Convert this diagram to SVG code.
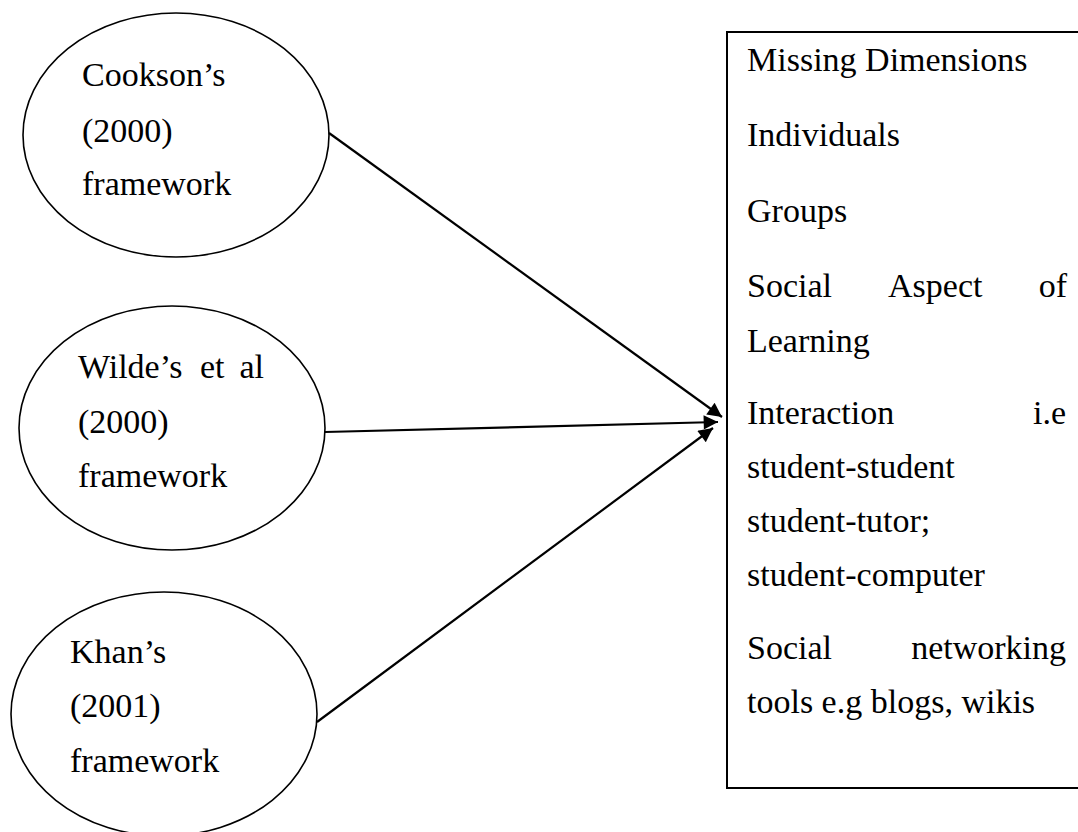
<svg xmlns="http://www.w3.org/2000/svg" width="1078" height="832" viewBox="0 0 1078 832">
  <style>
    .node { fill: #ffffff; stroke: #000000; stroke-width: 1.6; }
    .box { fill: #ffffff; stroke: #000000; stroke-width: 2; }
    .label { font-family: "Liberation Serif", "Times New Roman", serif; font-size: 34px; fill: #000000; }
    .edge { fill: none; stroke: #000000; stroke-width: 2.2; marker-end: url(#arrow); }
  </style>
  <defs>
    <marker id="arrow" viewBox="0 0 10 10" refX="10" refY="5" markerWidth="8" markerHeight="6.5" orient="auto" markerUnits="strokeWidth">
      <path d="M0,0 L10,5 L0,10 z" fill="#000000"/>
    </marker>
  </defs>
  <rect width="1078" height="832" fill="#ffffff"/>

  <!-- framework sources -->
  <g id="cookson">
    <ellipse class="node" cx="176" cy="135" rx="153" ry="122"/>
    <text class="label" x="82" y="86">Cookson’s</text>
    <text class="label" x="82" y="142">(2000)</text>
    <text class="label" x="82" y="195">framework</text>
  </g>

  <g id="wilde">
    <ellipse class="node" cx="172" cy="428" rx="153" ry="122"/>
    <text class="label" x="78" y="378">Wilde’s</text>
    <text class="label" x="200" y="378">et</text>
    <text class="label" x="264" y="378" text-anchor="end">al</text>
    <text class="label" x="78" y="433">(2000)</text>
    <text class="label" x="78" y="487">framework</text>
  </g>

  <g id="khan">
    <ellipse class="node" cx="164" cy="714" rx="153" ry="122"/>
    <text class="label" x="70" y="663">Khan’s</text>
    <text class="label" x="70" y="717">(2001)</text>
    <text class="label" x="70" y="772">framework</text>
  </g>

  <!-- missing dimensions list -->
  <g id="missing-dimensions">
    <rect class="box" x="727" y="32" width="380" height="756"/>
    <text class="label" x="747" y="71">Missing Dimensions</text>
    <text class="label" x="747" y="146">Individuals</text>
    <text class="label" x="747" y="222">Groups</text>
    <text class="label" x="747" y="297">Social</text>
    <text class="label" x="888" y="297">Aspect</text>
    <text class="label" x="1067" y="297" text-anchor="end">of</text>
    <text class="label" x="747" y="352">Learning</text>
    <text class="label" x="747" y="424">Interaction</text>
    <text class="label" x="1066" y="424" text-anchor="end">i.e</text>
    <text class="label" x="747" y="478">student-student</text>
    <text class="label" x="747" y="532">student-tutor;</text>
    <text class="label" x="747" y="586">student-computer</text>
    <text class="label" x="747" y="659">Social</text>
    <text class="label" x="1066" y="659" text-anchor="end">networking</text>
    <text class="label" x="747" y="713">tools e.g blogs, wikis</text>
  </g>

  <!-- connectors -->
  <g id="connectors">
    <line class="edge" x1="329" y1="133" x2="722" y2="417"/>
    <line class="edge" x1="325" y1="432" x2="718" y2="422"/>
    <line class="edge" x1="317" y1="722" x2="713" y2="428"/>
  </g>
</svg>
